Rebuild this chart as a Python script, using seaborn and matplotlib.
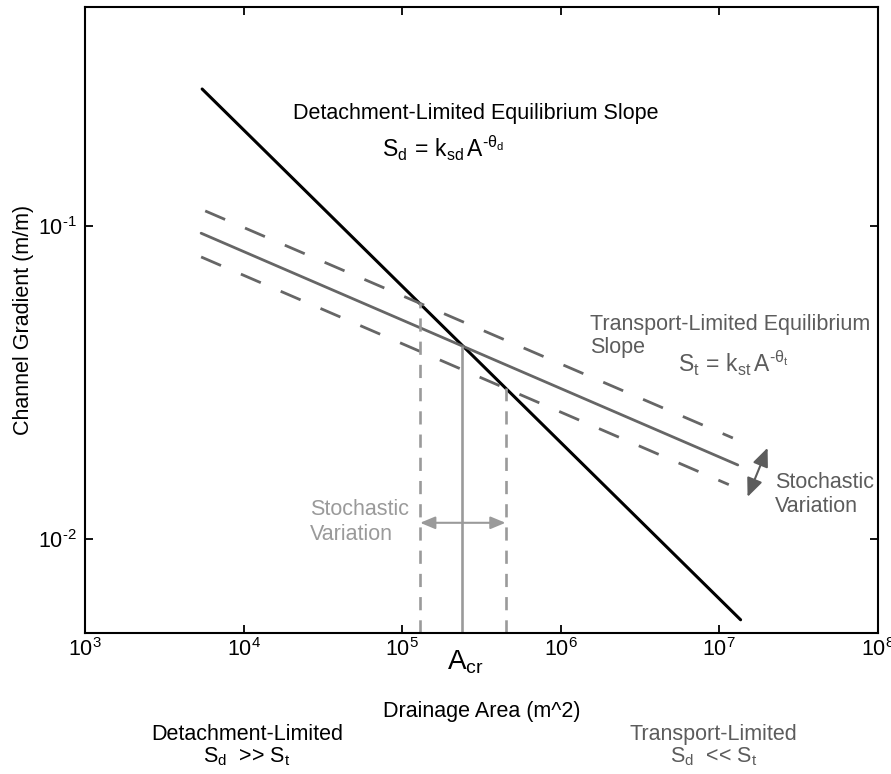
import matplotlib
matplotlib.use("Agg")
import matplotlib.pyplot as plt
import seaborn as sns
import numpy as np
from matplotlib.ticker import NullLocator, FixedLocator, FuncFormatter

# Equilibrium slope lines: drainage area (m^2) and channel gradient (m/m) end points
detach_area = [5.48e3, 1.365e7]
detach_slope = [0.274, 0.00551]

transport_area = [5.40e3, 1.31e7]
transport_slope = [0.0948, 0.01722]

transport_hi_area = [5.73e3, 1.22e7]
transport_hi_slope = [0.1117, 0.0210]

transport_lo_area = [5.40e3, 1.15e7]
transport_lo_slope = [0.0796, 0.0149]

# Critical drainage area and the range produced by stochastic variation
a_cr = 2.40e5
a_cr_slope = 0.0414
a_range = [1.30e5, 4.49e5]
a_range_slope = [0.0568, 0.0303]

x_ticks = [1e3, 1e4, 1e5, 1e6, 1e7, 1e8]
y_ticks = [1e-2, 1e-1]
x_limits = (1e3, 1e8)
y_limits = (5e-3, 0.5)

BLACK = "#000000"
DARK = "#5c5c5c"
LINE_GRAY = "#666666"
LIGHT = "#9a9a9a"

sns.set_theme(style="ticks", rc={
    "axes.edgecolor": "black",
    "axes.linewidth": 1.5,
    "text.color": "black",
    "axes.labelcolor": "black",
    "xtick.color": "black",
    "ytick.color": "black",
    "axes.unicode_minus": False,
    "mathtext.fontset": "custom",
    "mathtext.rm": "Liberation Sans",
    "mathtext.it": "Liberation Sans:italic",
    "mathtext.bf": "Liberation Sans:bold",
    "mathtext.default": "regular",
})
plt.rcParams["font.family"] = ["Liberation Sans", "DejaVu Sans"]


def power_label(value, pos):
    exp = int(round(np.log10(value)))
    sign = r"\text{-}" if exp < 0 else ""
    return r"$\mathdefault{10^{%s%d}}$" % (sign, abs(exp))


fig = plt.figure(figsize=(8.91, 7.74), dpi=100)
ax = fig.add_axes([0.0954, 0.1822, 0.8897, 0.8084])
ax.set_xscale("log")
ax.set_yscale("log")

# Detachment-limited slope
sns.lineplot(x=detach_area, y=detach_slope, color=BLACK, lw=2.2, ax=ax,
             estimator=None, sort=False)
# Transport-limited slope and its stochastic envelope
sns.lineplot(x=transport_area, y=transport_slope, color=LINE_GRAY, lw=2.0, ax=ax,
             estimator=None, sort=False)
for xa, ya in [(transport_hi_area, transport_hi_slope),
               (transport_lo_area, transport_lo_slope)]:
    sns.lineplot(x=xa, y=ya, color=LINE_GRAY, lw=2.0, ax=ax,
                 estimator=None, sort=False, linestyle=(0, (7.8, 7.8)))

# Critical area markers
ax.vlines(a_cr, y_limits[0], a_cr_slope, color=LIGHT, lw=1.9)
ax.vlines(a_range, y_limits[0], a_range_slope, color=LIGHT, lw=1.9,
          linestyles=[(0, (5, 3.8))])

# Stochastic variation arrows
y_arrow = 0.01125
ax.annotate("", xy=(a_range[1], y_arrow), xytext=(a_range[0], y_arrow),
            arrowprops=dict(arrowstyle="<|-|>,head_length=0.6,head_width=0.25",
                            color=LIGHT, lw=1.5, shrinkA=0, shrinkB=0,
                            mutation_scale=15))
ax.annotate("", xy=(2.02e7, 0.01954), xytext=(1.51e7, 0.01361),
            arrowprops=dict(arrowstyle="<|-|>,head_length=0.75,head_width=0.32",
                            color=DARK, lw=1.5, shrinkA=0, shrinkB=0,
                            mutation_scale=15))

ax.set_xlim(*x_limits)
ax.set_ylim(*y_limits)
ax.xaxis.set_major_locator(FixedLocator(x_ticks))
ax.yaxis.set_major_locator(FixedLocator(y_ticks))
ax.xaxis.set_minor_locator(NullLocator())
ax.yaxis.set_minor_locator(NullLocator())
ax.xaxis.set_major_formatter(FuncFormatter(power_label))
ax.yaxis.set_major_formatter(FuncFormatter(power_label))
ax.tick_params(axis="both", which="major", direction="in", top=True, right=True,
               length=6, width=1.3, labelsize=15.5)
ax.tick_params(axis="x", pad=4)
ax.tick_params(axis="y", pad=6)

ax.set_xlabel("Drainage Area (m^2)", fontsize=15.5)
ax.xaxis.label.set_verticalalignment("baseline")
ax.xaxis.set_label_coords(0.5, -0.1342)
ax.set_ylabel("Channel Gradient (m/m)", fontsize=15.5)
ax.yaxis.set_label_coords(-0.064, 0.5)

fs = 15.5
eq_fs = 16.5
ax.text(2.06e4, 0.22, "Detachment-Limited Equilibrium Slope", fontsize=fs,
        va="baseline", color=BLACK)
ax.text(7.5e4, 0.166, r"$S_d\,=\,k_{sd}\,A^{\text{-}\theta_d}$", fontsize=eq_fs,
        va="baseline", color=BLACK)
ax.text(1.54e6, 0.0466, "Transport-Limited Equilibrium", fontsize=fs,
        va="baseline", color=DARK)
ax.text(1.54e6, 0.0393, "Slope", fontsize=fs, va="baseline", color=DARK)
ax.text(5.46e6, 0.0342, r"$S_t\,=\,k_{st}\,A^{\text{-}\theta_t}$", fontsize=eq_fs,
        va="baseline", color=DARK)
ax.text(2.24e7, 0.01456, "Stochastic", fontsize=fs, va="baseline", color=DARK)
ax.text(2.24e7, 0.01219, "Variation", fontsize=fs, va="baseline", color=DARK)
ax.text(2.63e4, 0.01194, "Stochastic", fontsize=fs, va="baseline", color=LIGHT)
ax.text(2.63e4, 0.00993, "Variation", fontsize=fs, va="baseline", color=LIGHT)

trans = ax.get_xaxis_transform()
ax.text(a_cr * 1.04, -0.0591, r"$A_{cr}$", fontsize=20, ha="center",
        va="baseline", transform=trans, color=BLACK)
ax.text(1.05e4, -0.1710, "Detachment-Limited", fontsize=fs, ha="center",
        va="baseline", transform=trans, color=BLACK)
ax.text(1.05e4, -0.2062, r"S$_d$  >> S$_t$", fontsize=fs, ha="center",
        va="baseline", transform=trans, color=BLACK)
ax.text(9.2e6, -0.1710, "Transport-Limited", fontsize=fs, ha="center",
        va="baseline", transform=trans, color=DARK)
ax.text(9.2e6, -0.2062, r"S$_d$  << S$_t$", fontsize=fs, ha="center",
        va="baseline", transform=trans, color=DARK)

fig.savefig("out.png", dpi=100, facecolor="white")
